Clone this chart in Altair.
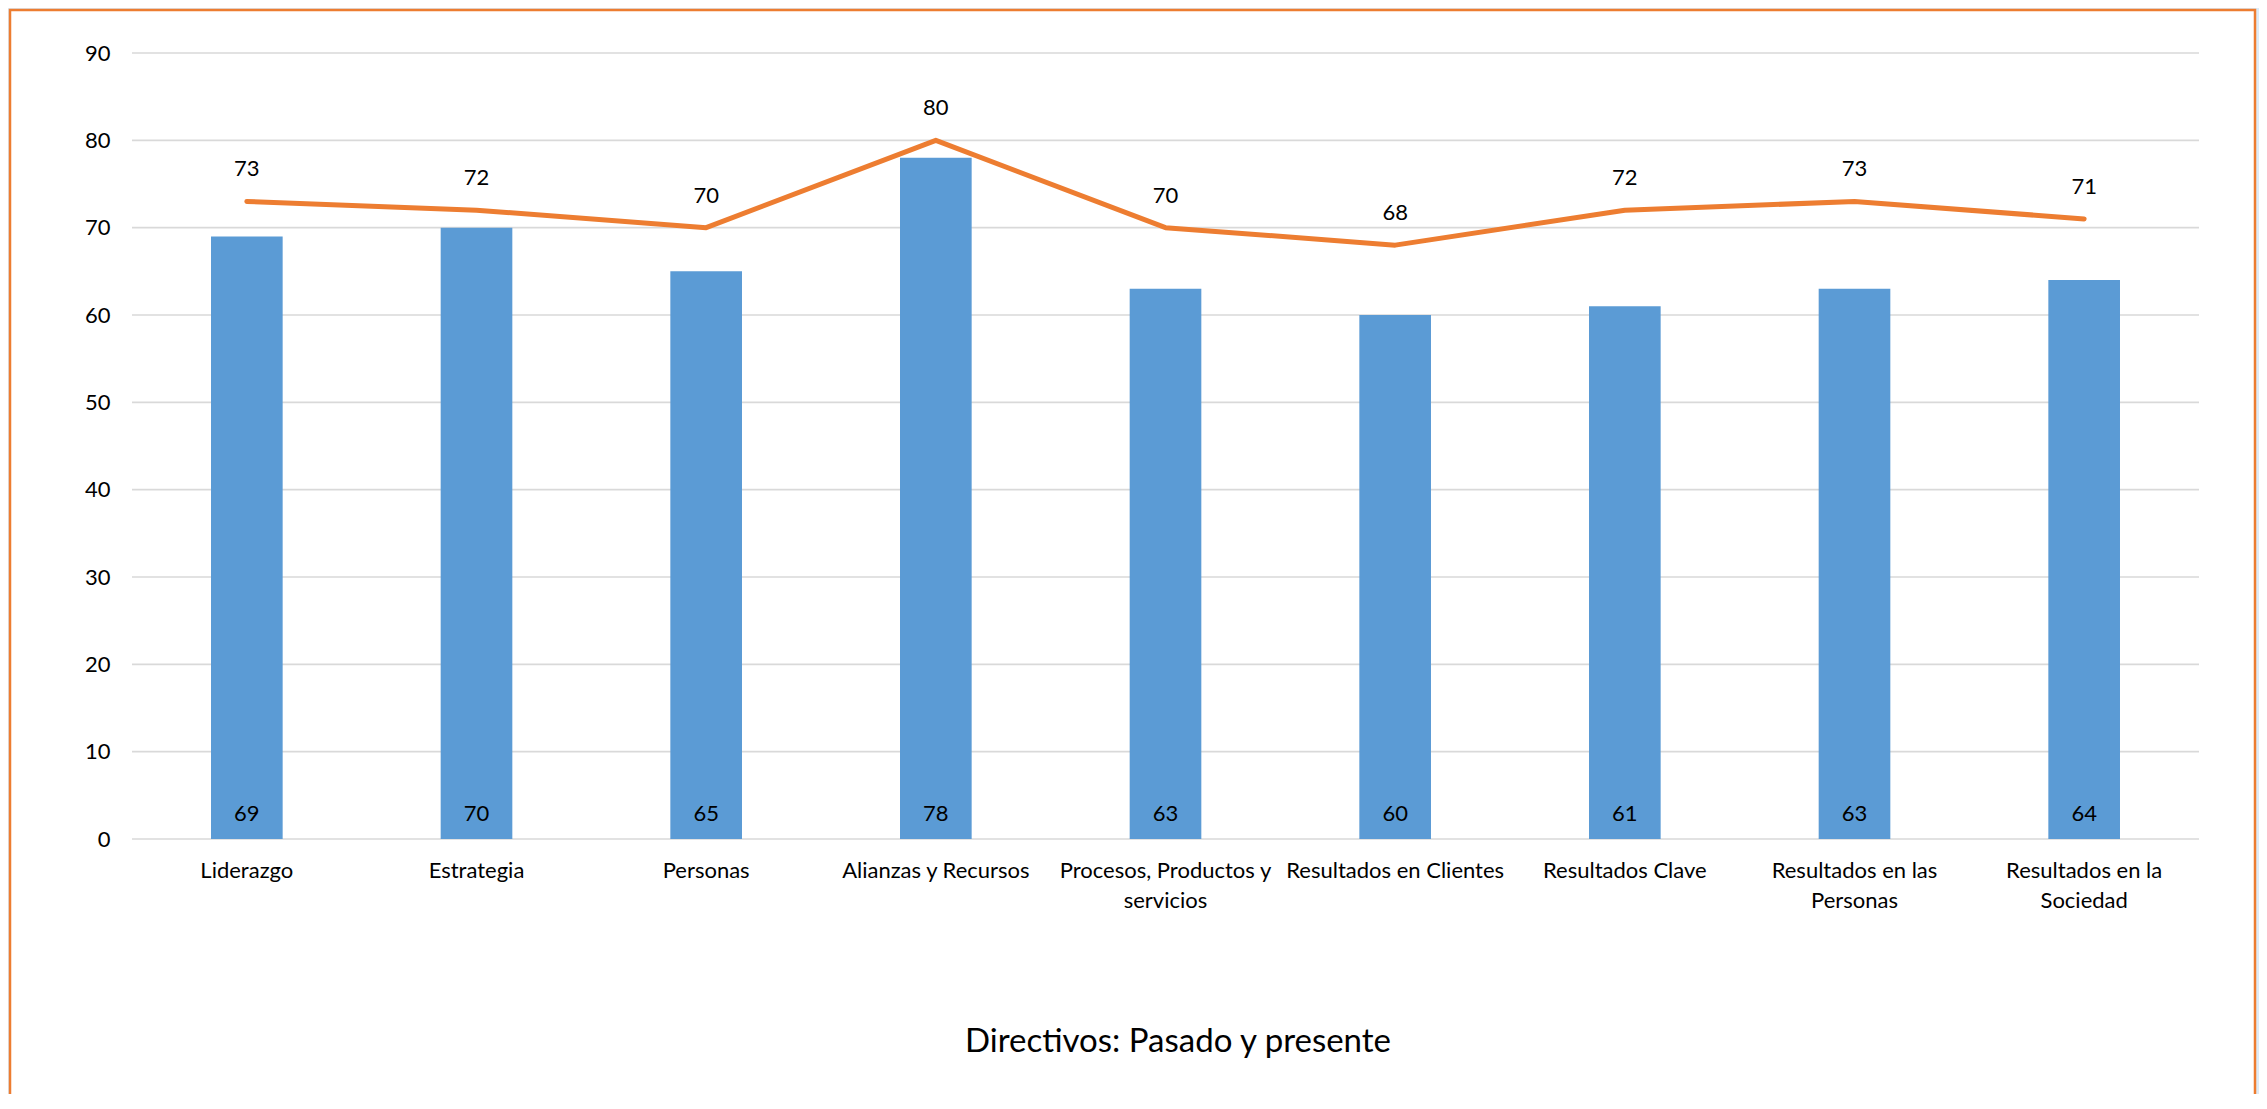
import altair as alt
import pandas as pd

# ---- data -----------------------------------------------------------------
categories = [
    "Liderazgo",
    "Estrategia",
    "Personas",
    "Alianzas y Recursos",
    "Procesos, Productos y servicios",
    "Resultados en Clientes",
    "Resultados Clave",
    "Resultados en las Personas",
    "Resultados en la Sociedad",
]
pasado = [69, 70, 65, 78, 63, 60, 61, 63, 64]
presente = [73, 72, 70, 80, 70, 68, 72, 73, 71]
label_lines = [
    ["Liderazgo"],
    ["Estrategia"],
    ["Personas"],
    ["Alianzas y Recursos"],
    ["Procesos, Productos y", "servicios"],
    ["Resultados en Clientes"],
    ["Resultados Clave"],
    ["Resultados en las", "Personas"],
    ["Resultados en la", "Sociedad"],
]
y_ticks = [0, 10, 20, 30, 40, 50, 60, 70, 80, 90]
title_text = "Directivos: Pasado y presente"

# ---- layout / style -------------------------------------------------------
W, H = 2067, 786
FONT = "Lato"
BLUE = "#5B9BD5"
ORANGE = "#ED7D31"
GRID = "#D9D9D9"
BG = "#DDEBF7"

df = pd.DataFrame({"categoria": categories, "pasado": pasado, "presente": presente})
grid_df = pd.DataFrame({"tick": y_ticks})
one = pd.DataFrame({"t": [title_text]})


def js_list(lines):
    return "[" + ",".join("'" + s.replace("'", "\\'") + "'" for s in lines) + "]"


parts = []
for c, lines in zip(categories, label_lines):
    parts.append("datum.value == '%s' ? %s" % (c.replace("'", "\\'"), js_list(lines)))
label_expr = " : ".join(parts) + " : datum.value"

yscale = alt.Scale(domain=[0, 90], nice=False, zero=True)
xscale = alt.Scale(paddingInner=0.688, paddingOuter=0.344)

x_axis = alt.Axis(
    labelExpr=label_expr,
    labelFont=FONT,
    labelFontSize=22,
    labelColor="#000000",
    labelLineHeight=30,
    labelPadding=21,
    labelAngle=0,
    labelLimit=0,
    domain=False,
    ticks=False,
    grid=False,
    zindex=1,
)
y_axis = alt.Axis(
    values=y_ticks,
    labelFont=FONT,
    labelFontSize=22,
    labelColor="#000000",
    labelPadding=22,
    domain=False,
    ticks=False,
    grid=False,
    zindex=1,
)


def X():
    return alt.X("categoria:N", sort=categories, scale=xscale, title=None, axis=x_axis)


def Y(field):
    return alt.Y(field, scale=yscale, title=None, axis=y_axis)


frame = alt.Chart(one).mark_rect(
    fill="white", stroke=ORANGE, strokeWidth=2.5
).encode(
    x=alt.value(-122), x2=alt.value(2123), y=alt.value(-43), y2=alt.value(H + 400)
)

grid = alt.Chart(grid_df).mark_rule(color=GRID, strokeWidth=1.6).encode(
    y=Y("tick:Q"),
    x=alt.value(0),
    x2=alt.value(W),
)

bars = alt.Chart(df).mark_bar(color=BLUE).encode(
    x=X(),
    y=Y("pasado:Q"),
)

line = alt.Chart(df).mark_line(
    color=ORANGE, strokeWidth=5, strokeCap="round", strokeJoin="round"
).encode(
    x=X(),
    y=Y("presente:Q"),
)

line_labels = alt.Chart(df).mark_text(
    font=FONT, fontSize=22, color="#000000", baseline="middle", align="center", dy=-32
).encode(
    x=X(),
    y=Y("presente:Q"),
    text=alt.Text("presente:Q"),
)

bar_labels = alt.Chart(df).mark_text(
    font=FONT, fontSize=22, color="#000000", baseline="middle", align="center", dy=-25
).encode(
    x=X(),
    y=alt.value(H),
    text=alt.Text("pasado:Q"),
)

title = alt.Chart(one).mark_text(
    font=FONT, fontSize=33, color="#000000", baseline="alphabetic", align="center"
).encode(
    x=alt.value(1046), y=alt.value(H + 213), text="t:N"
)

chart = (
    alt.layer(frame, grid, bars, line, line_labels, bar_labels, title)
    .properties(
        width=W,
        height=H,
        autosize=alt.AutoSizeParams(type="none"),
        padding={"left": 124, "top": 45, "right": 60, "bottom": 255},
    )
    .configure(background=BG)
    .configure_view(stroke=None)
)

chart.save("out.html", embed_options={"renderer": "svg", "actions": False})
